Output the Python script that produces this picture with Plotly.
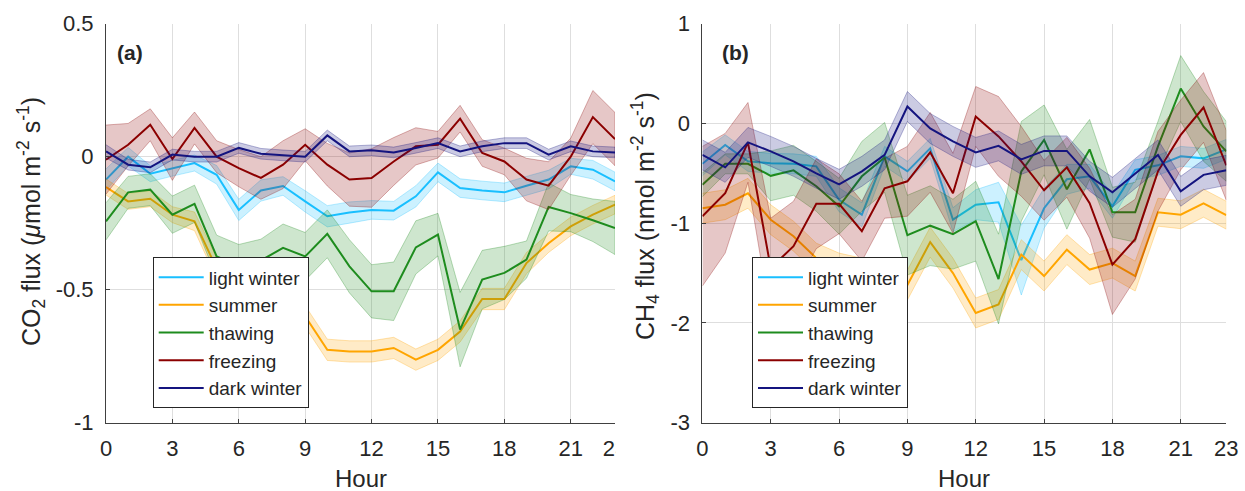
import plotly.graph_objects as go

hours = list(range(24))

series_names = ["light winter", "summer", "thawing", "freezing", "dark winter"]
series_colors = ["#19BFFF", "#FFA500", "#1E8C1E", "#8B0000", "#14147F"]
band_rgb = ["25,191,255", "255,165,0", "30,140,30", "139,0,0", "20,20,127"]

# ---- CO2 flux (panel a) ----
co2_light = [-0.086, 0.0, -0.064, -0.043, -0.024, -0.068, -0.2, -0.127, -0.11, -0.168, -0.224, -0.21,
             -0.2, -0.203, -0.149, -0.059, -0.118, -0.127, -0.134, -0.109, -0.086, -0.036, -0.049, -0.093]
co2_summer = [-0.114, -0.168, -0.158, -0.218, -0.243, -0.42, -0.48, -0.53, -0.57, -0.6, -0.726, -0.732,
              -0.732, -0.719, -0.763, -0.726, -0.657, -0.535, -0.535, -0.4, -0.325, -0.262, -0.218, -0.18]
co2_thaw = [-0.243, -0.134, -0.124, -0.218, -0.177, -0.375, -0.41, -0.39, -0.343, -0.375, -0.29, -0.412,
            -0.506, -0.506, -0.341, -0.293, -0.65, -0.462, -0.437, -0.387, -0.189, -0.212, -0.239, -0.268]
co2_freeze = [-0.011, 0.045, 0.12, -0.009, 0.108, 0.0, -0.043, -0.08, -0.03, 0.045, -0.03, -0.086,
              -0.08, -0.018, 0.039, 0.045, 0.143, 0.014, -0.018, -0.086, -0.109, 0.0, 0.149, 0.066]
co2_dark = [0.02, -0.03, -0.04, 0.008, 0.0, 0.0, 0.033, 0.011, 0.005, 0.0, 0.08, 0.02,
            0.024, 0.016, 0.033, 0.051, 0.02, 0.039, 0.051, 0.051, 0.008, 0.039, 0.02, 0.016]

co2_light_err = [0.04, 0.035, 0.03, 0.03, 0.03, 0.035, 0.04, 0.04, 0.035, 0.04, 0.04, 0.04,
                 0.035, 0.035, 0.04, 0.035, 0.035, 0.035, 0.035, 0.035, 0.035, 0.03, 0.035, 0.035]
co2_summer_err = [0.03, 0.03, 0.03, 0.03, 0.035, 0.04, 0.04, 0.04, 0.04, 0.04, 0.04, 0.04,
                  0.04, 0.04, 0.04, 0.04, 0.04, 0.04, 0.04, 0.04, 0.035, 0.035, 0.035, 0.035]
co2_thaw_err = [0.07, 0.06, 0.06, 0.07, 0.07, 0.08, 0.08, 0.08, 0.09, 0.09, 0.09, 0.1,
                0.1, 0.11, 0.1, 0.08, 0.14, 0.11, 0.1, 0.07, 0.09, 0.07, 0.08, 0.1]
co2_freeze_err = [0.13, 0.08, 0.06, 0.08, 0.06, 0.06, 0.07, 0.08, 0.09, 0.06, 0.08, 0.1,
                  0.11, 0.09, 0.07, 0.05, 0.05, 0.05, 0.05, 0.08, 0.09, 0.07, 0.1, 0.1]
co2_dark_err = [0.025, 0.02, 0.02, 0.02, 0.02, 0.02, 0.02, 0.02, 0.02, 0.02, 0.02, 0.02,
                0.02, 0.02, 0.02, 0.02, 0.02, 0.02, 0.02, 0.02, 0.02, 0.02, 0.02, 0.02]

# ---- CH4 flux (panel b) ----
ch4_light = [-0.405, -0.215, -0.38, -0.4, -0.405, -0.43, -0.765, -0.915, -0.33, -0.48, -0.25, -0.965,
             -0.815, -0.79, -1.37, -0.85, -0.56, -0.53, -0.83, -0.465, -0.42, -0.33, -0.35, -0.26]
ch4_summer = [-0.85, -0.815, -0.7, -0.965, -1.13, -1.35, -1.45, -1.5, -1.55, -1.62, -1.19, -1.5,
              -1.9, -1.815, -1.315, -1.53, -1.265, -1.465, -1.4, -1.53, -0.89, -0.915, -0.8, -0.92]
ch4_thaw = [-0.615, -0.405, -0.405, -0.525, -0.47, -0.63, -0.83, -0.53, -0.34, -1.12, -1.025, -1.11,
            -0.98, -1.56, -0.48, -0.165, -0.66, -0.26, -0.89, -0.89, -0.23, 0.35, -0.03, -0.28]
ch4_freeze = [-0.93, -0.7, -0.19, -1.45, -1.23, -0.805, -0.805, -1.08, -0.65, -0.58, -0.29, -0.7,
              0.07, -0.13, -0.38, -0.67, -0.44, -0.8, -1.415, -1.16, -0.48, -0.115, 0.16, -0.42]
ch4_dark = [-0.315, -0.44, -0.19, -0.28, -0.38, -0.5, -0.61, -0.48, -0.315, 0.17, -0.05, -0.18,
            -0.29, -0.225, -0.36, -0.275, -0.275, -0.53, -0.69, -0.505, -0.315, -0.68, -0.515, -0.47]

ch4_light_err = [0.12, 0.1, 0.1, 0.1, 0.1, 0.1, 0.12, 0.12, 0.1, 0.1, 0.1, 0.12,
                 0.15, 0.2, 0.35, 0.2, 0.15, 0.12, 0.12, 0.1, 0.1, 0.1, 0.1, 0.1]
ch4_summer_err = [0.15, 0.15, 0.15, 0.15, 0.15, 0.15, 0.15, 0.15, 0.15, 0.15, 0.15, 0.15,
                  0.15, 0.15, 0.15, 0.15, 0.15, 0.15, 0.15, 0.15, 0.14, 0.14, 0.14, 0.14]
ch4_thaw_err = [0.12, 0.1, 0.1, 0.25, 0.25, 0.25, 0.28, 0.35, 0.35, 0.4, 0.4, 0.35,
                0.4, 0.45, 0.5, 0.35, 0.4, 0.3, 0.25, 0.3, 0.25, 0.33, 0.35, 0.3]
ch4_freeze_err = [0.7, 0.6, 0.4, 0.5, 0.45, 0.45, 0.3, 0.3, 0.3, 0.35, 0.4, 0.4,
                  0.3, 0.4, 0.35, 0.3, 0.3, 0.35, 0.5, 0.4, 0.4, 0.35, 0.35, 0.35]
ch4_dark_err = [0.15, 0.15, 0.15, 0.15, 0.15, 0.15, 0.15, 0.15, 0.15, 0.15, 0.15, 0.15,
                0.15, 0.15, 0.15, 0.15, 0.15, 0.15, 0.15, 0.15, 0.15, 0.15, 0.15, 0.15]

x_tickvals = [0, 3, 6, 9, 12, 15, 18, 21, 23]
x_ticktext = ["0", "3", "6", "9", "12", "15", "18", "21", "23"]
co2_tickvals = [-1, -0.5, 0, 0.5]
co2_ticktext = ["-1", "-0.5", "0", "0.5"]
ch4_tickvals = [-3, -2, -1, 0, 1]
ch4_ticktext = ["-3", "-2", "-1", "0", "1"]

co2_series = [(co2_light, co2_light_err), (co2_summer, co2_summer_err), (co2_thaw, co2_thaw_err),
              (co2_freeze, co2_freeze_err), (co2_dark, co2_dark_err)]
ch4_series = [(ch4_light, ch4_light_err), (ch4_summer, ch4_summer_err), (ch4_thaw, ch4_thaw_err),
              (ch4_freeze, ch4_freeze_err), (ch4_dark, ch4_dark_err)]

FONT = "Liberation Sans, Arial, Helvetica, sans-serif"
TXT = "#262626"
W, H = 1245, 491

fig = go.Figure()

def add_panel(series, xa, ya, legend_name):
    for i, (vals, errs) in enumerate(series):
        upper = [v + e for v, e in zip(vals, errs)]
        lower = [v - e for v, e in zip(vals, errs)]
        fig.add_trace(go.Scatter(
            x=hours + hours[::-1], y=upper + lower[::-1],
            fill="toself", fillcolor=f"rgba({band_rgb[i]},0.22)",
            line=dict(color=f"rgba({band_rgb[i]},0.30)", width=1),
            mode="lines", showlegend=False, hoverinfo="skip",
            xaxis=xa, yaxis=ya))
        fig.add_trace(go.Scatter(
            x=hours, y=vals, mode="lines", name=series_names[i],
            line=dict(color=series_colors[i], width=2),
            xaxis=xa, yaxis=ya, legend=legend_name))

add_panel(co2_series, "x", "y", "legend")
add_panel(ch4_series, "x2", "y2", "legend2")

ydom = [1 - 422.7 / H, 1 - 23.7 / H]
axis_common = dict(showline=True, linecolor="#404040", linewidth=1, mirror=False,
                   ticks="inside", ticklen=4, tickcolor="#404040", automargin=False,
                   showgrid=True, gridcolor="#dedede", gridwidth=1, zeroline=False,
                   tickfont=dict(family=FONT, size=22, color=TXT))

legend_common = dict(xanchor="left", yanchor="top", bgcolor="white", bordercolor="#262626",
                     borderwidth=1, font=dict(family=FONT, size=19, color=TXT),
                     tracegroupgap=0, itemwidth=45)

fig.update_layout(
    width=W, height=H,
    margin=dict(l=0, r=0, t=0, b=0, autoexpand=False),
    paper_bgcolor="white", plot_bgcolor="white",
    showlegend=True,
    xaxis=dict(domain=[106 / W, 615 / W], range=[0, 23], tickvals=x_tickvals, ticktext=x_ticktext,
               anchor="y", ticklabelstandoff=6, **axis_common),
    yaxis=dict(domain=ydom, range=[-1, 0.5], tickvals=co2_tickvals, ticktext=co2_ticktext,
               anchor="x", ticklabelstandoff=7, **axis_common),
    xaxis2=dict(domain=[702.4 / W, 1226.3 / W], range=[0, 23], tickvals=x_tickvals, ticktext=x_ticktext,
                anchor="y2", ticklabelstandoff=6, **axis_common),
    yaxis2=dict(domain=ydom, range=[-3, 1], tickvals=ch4_tickvals, ticktext=ch4_ticktext,
                anchor="x2", ticklabelstandoff=7, **axis_common),
    legend=dict(x=152.7 / W, y=1 - 257.3 / H, **legend_common),
    legend2=dict(x=752 / W, y=1 - 257.3 / H, **legend_common),
)

# the left panel is cut just right of its last tick (as in the reference)
fig.add_shape(type="rect", xref="paper", yref="paper", x0=615.5 / W, x1=631 / W, y0=0, y1=1,
              fillcolor="white", line=dict(width=0), layer="above")

annos = [
    dict(text="<b>(a)</b>", x=130 / W, y=1 - 52 / H, size=21, angle=0),
    dict(text="<b>(b)</b>", x=735.5 / W, y=1 - 52.5 / H, size=21, angle=0),
    dict(text="Hour", x=360.5 / W, y=1 - 478 / H, size=24, angle=0),
    dict(text="Hour", x=964.3 / W, y=1 - 478 / H, size=24, angle=0),
    dict(text="CO<sub>2</sub> flux (<i>\u03bc</i>mol m<sup>-2</sup> s<sup>-1</sup>)", x=31 / W, y=1 - 222 / H,
         size=25, angle=-90),
    dict(text="CH<sub>4</sub> flux (nmol m<sup>-2</sup> s<sup>-1</sup>)", x=645 / W, y=1 - 216 / H,
         size=25, angle=-90),
]
for a in annos:
    fig.add_annotation(text=a["text"], x=a["x"], y=a["y"], xref="paper", yref="paper",
                       xanchor="center", yanchor="middle", showarrow=False, textangle=a["angle"],
                       font=dict(family=FONT, size=a["size"], color=TXT))

fig.write_html("out.html", config={"displayModeBar": False},
               post_script="document.body.style.margin='0px';")
